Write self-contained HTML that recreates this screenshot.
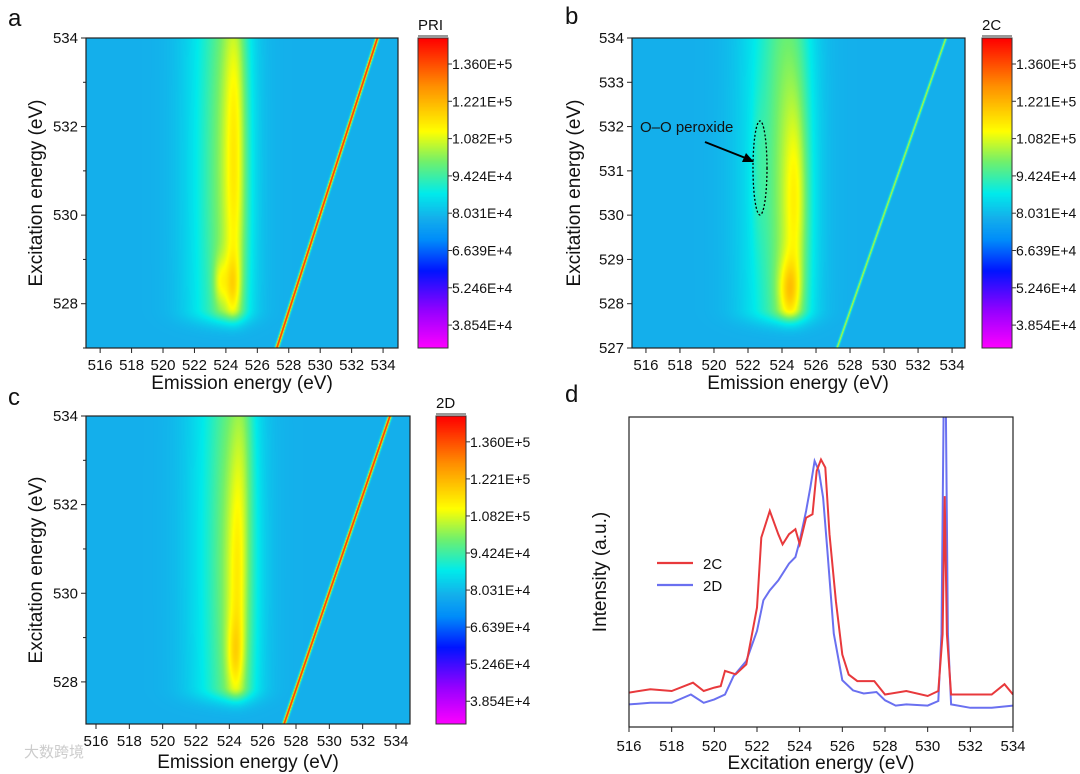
<!DOCTYPE html>
<html><head><meta charset="utf-8">
<style>
body{margin:0;background:#fff;width:1080px;height:774px;overflow:hidden;position:relative;font-family:"Liberation Sans",Arial,sans-serif}
canvas{position:absolute}
svg{position:absolute;left:0;top:0}
text{font-family:"Liberation Sans",Arial,sans-serif;fill:#111}
</style></head><body>
<canvas id="ca"></canvas>
<canvas id="cb"></canvas>
<canvas id="cc"></canvas>
<canvas id="cba"></canvas>
<canvas id="cbb"></canvas>
<canvas id="cbc"></canvas>
<svg id="s" width="1080" height="774"></svg>
<script>
// ---- data ----
const cbarLabels = ["1.360E+5","1.221E+5","1.082E+5","9.424E+4","8.031E+4","6.639E+4","5.246E+4","3.854E+4"];
const cbarTitles = ["PRI","2C","2D"];
const emTicks = [516,518,520,522,524,526,528,530,532,534];
// blobs: [emission, excitation, sigmaX, sigmaY, amplitude]
const blobsA = [[523.4,531,1.5,8,0.11],[524.3,531,0.9,4,0.12],[524.6,530.5,0.45,2.2,0.1],[524.6,533.5,0.5,1.5,0.05],[524.4,528.4,0.35,0.5,0.1],[523.6,528.5,0.3,0.4,0.09]];
const blobsB = [[523.6,531,1.5,8,0.11],[524.5,530.5,0.9,4,0.12],[524.8,530.3,0.45,1.6,0.1],[524.4,528.3,0.45,0.5,0.14],[522.6,531,0.3,1.2,0.03]];
const blobsC = [[523.6,531,1.5,8,0.11],[524.4,530.5,0.85,4,0.12],[524.5,530.2,0.4,2,0.09],[524.3,528.6,0.35,0.6,0.08],[524.8,533.5,0.4,1.5,0.04]];
const elasticEm = [527.2,533.6]; const elasticEx = [527,534];
const elasticAmp = [0.55,0.24,0.55];
const dX_red = [516,517,518,519,519.5,520,520.3,520.5,521,521.5,522,522.2,522.6,523,523.2,523.5,523.8,524,524.3,524.6,524.8,525,525.2,525.4,525.7,526,526.3,526.7,527.5,528,529,530,530.5,530.7,530.8,530.9,531.1,532,533,533.6,534];
const dY_red = [11.1,12.2,11.6,14.3,11.6,12.7,13.2,18.1,17.0,20.2,38.5,61.1,69.7,62.2,58.9,62.2,63.8,59.0,67.5,68.6,82.6,86.3,83.7,62.2,40.6,23.4,16.9,14.8,14.8,10.5,11.6,10.0,11.6,29.9,74.5,29.9,10.5,10.5,10.5,13.8,10.5];
const dX_blue = [516,517,518,518.9,519.5,520,520.5,520.9,521.5,522,522.3,522.6,523,523.5,523.8,524,524.3,524.5,524.7,524.9,525.1,525.3,525.6,526,526.5,527,527.6,528,528.5,529,530,530.5,530.65,530.75,530.85,530.95,531.1,532,533,534];
const dY_blue = [7.3,7.8,7.8,10.5,7.8,8.9,10.5,16.4,21.3,31.0,40.9,44.1,47.3,52.7,54.8,60.0,69.7,77.2,85.8,82.6,74.0,56.8,30.1,15.1,11.8,10.8,11.3,8.6,6.9,7.3,6.9,8.4,30.1,105,105,30.1,7.3,6.2,6.2,6.9];

const stops=[[0,[255,0,255]],[0.12,[150,0,255]],[0.25,[0,20,255]],[0.35,[0,140,250]],[0.42,[20,175,235]],[0.5,[0,235,235]],[0.6,[110,240,110]],[0.7,[255,255,0]],[0.85,[255,140,0]],[1,[255,0,0]]];
function cmap(t){t=Math.max(0,Math.min(1,t));for(let i=1;i<stops.length;i++){if(t<=stops[i][0]){const a=stops[i-1],b=stops[i],f=(t-a[0])/(b[0]-a[0]);return a[1].map((v,k)=>Math.round(v+(b[1][k]-v)*f));}}return stops[stops.length-1][1];}

const panels=[
 {c:'ca',cb:'cba',x:86,y:38,w:312,h:310,x0:515.1,x1:534.95,y0:527,y1:534,cbx:418,blobs:blobsA,amp:elasticAmp[0],yt:[528,530,532,534],letter:'a',lx:8,ly:26,tx:242,ty:389,ayx:42},
 {c:'cb',cb:'cbb',x:632,y:38,w:333,h:310,x0:515.18,x1:534.76,y0:527,y1:534,cbx:982,blobs:blobsB,amp:elasticAmp[1],yt:[527,528,529,530,531,532,533,534],letter:'b',lx:565,ly:24,tx:798,ty:389,ayx:580},
 {c:'cc',cb:'cbc',x:86,y:416,w:324,h:308,x0:515.4,x1:534.84,y0:527.05,y1:534,cbx:436,blobs:blobsC,amp:elasticAmp[2],yt:[528,530,532,534],letter:'c',lx:8,ly:405,tx:248,ty:768,ayx:42}
];
const S=document.getElementById('s');const NS='http://www.w3.org/2000/svg';
function el(tag,attrs,parent){const e=document.createElementNS(NS,tag);for(const k in attrs)e.setAttribute(k,attrs[k]);(parent||S).appendChild(e);return e;}
function txt(x,y,s,size,anchor,name,extra){const t=el('text',Object.assign({x:x,y:y,'font-size':size,'text-anchor':anchor||'start'},extra||{}));t.textContent=s;return t;}

panels.forEach((p,pi)=>{
 const cv=document.getElementById(p.c);cv.width=p.w;cv.height=p.h;cv.style.left=p.x+'px';cv.style.top=p.y+'px';
 const ctx=cv.getContext('2d');const img=ctx.createImageData(p.w,p.h);
 const sx=v=>(v-p.x0)/(p.x1-p.x0)*p.w, sy=v=>p.h-(v-p.y0)/(p.y1-p.y0)*p.h;
 const lx0=sx(elasticEm[0]),ly0=sy(elasticEx[0]),lx1=sx(elasticEm[1]),ly1=sy(elasticEx[1]);
 const dx=lx1-lx0,dy=ly1-ly0,L=Math.hypot(dx,dy);
 for(let j=0;j<p.h;j++){const ey=p.y0+(p.h-j)/p.h*(p.y1-p.y0);
  for(let i=0;i<p.w;i++){const ex=p.x0+i/p.w*(p.x1-p.x0);
   let t=0.42;
   p.blobs.forEach(b=>{t+=b[4]*Math.exp(-((ex-b[0])**2)/(2*b[2]*b[2])-((ey-b[1])**2)/(2*b[3]*b[3]));});
   if(ey<527.9){t=0.42+(t-0.42)*Math.exp(-((527.9-ey)**2)/0.12);}
   const d=Math.abs((i-lx0)*dy-(j-ly0)*dx)/L;
   t+=p.amp*Math.exp(-d*d/(pi==1?1.2:2.5));
   const c=cmap(t);const o=(j*p.w+i)*4;img.data[o]=c[0];img.data[o+1]=c[1];img.data[o+2]=c[2];img.data[o+3]=255;}}
 ctx.putImageData(img,0,0);
 const cb=document.getElementById(p.cb);cb.width=30;cb.height=p.h;cb.style.left=p.cbx+'px';cb.style.top=p.y+'px';
 const c2=cb.getContext('2d');for(let j=0;j<p.h;j++){const c=cmap(1-j/p.h);c2.fillStyle=`rgb(${c})`;c2.fillRect(0,j,30,1);}
 el('rect',{x:p.cbx,y:p.y,width:30,height:p.h,fill:'none',stroke:'#333','stroke-width':1,});
 el('rect',{x:p.cbx,y:p.y-3,width:30,height:3,fill:'#999',});
 cbarLabels.forEach((l,k)=>{const yy=p.y+p.h*(26+k*37.3)/310;el('line',{x1:p.cbx+30,x2:p.cbx+34,y1:yy,y2:yy,stroke:'#333'});txt(p.cbx+34,yy+5,l,14,'start','colorbar-label');});
 txt(p.cbx,p.y-8,cbarTitles[pi],15,'start','colorbar-title');
 el('rect',{x:p.x,y:p.y,width:p.w,height:p.h,fill:'none',stroke:'#222','stroke-width':1.2,});
 emTicks.forEach(v=>{const X=p.x+sx(v);el('line',{x1:X,x2:X,y1:p.y+p.h,y2:p.y+p.h+5,stroke:'#222'});txt(X,p.y+p.h+22,String(v),15,'middle','x-tick-label');});
 for(let v=Math.ceil(p.y0);v<=p.y1;v++){const Y=p.y+sy(v);el('line',{x1:p.x-(p.yt.includes(v)?5:3),x2:p.x,y1:Y,y2:Y,stroke:'#222'});}
 p.yt.forEach(v=>{const Y=p.y+sy(v);txt(p.x-8,Y+5,String(v),15,'end','y-tick-label');});
 txt(p.tx,p.ty,'Emission energy (eV)',19,'middle','x-axis-title');
 txt(p.ayx,p.y+p.h/2,'Excitation energy (eV)',19,'middle','y-axis-title',{transform:`rotate(-90 ${p.ayx} ${p.y+p.h/2})`});
 txt(p.lx,p.ly,p.letter,24,'start','panel-letter');
});
el('ellipse',{cx:760,cy:168,rx:7,ry:47,fill:'none',stroke:'#000','stroke-width':1.3,'stroke-dasharray':'2,2',});
el('line',{x1:705,y1:142,x2:748,y2:159,stroke:'#000','stroke-width':2,});
el('polygon',{points:'754,162 742,162 746,153',fill:'#000'});
txt(640,132,'O–O peroxide',15,'start','peroxide-label');

const D={x:629,y:417,w:384,h:310,x0:516,x1:534};
const dx_=v=>D.x+(v-D.x0)/(D.x1-D.x0)*D.w, dy_=v=>D.y+D.h-v/100*D.h;
const defs=el('defs',{});const cp=el('clipPath',{id:'clipd'},defs);el('rect',{x:D.x,y:D.y,width:D.w,height:D.h},cp);
function series(xs,ys,col,name){const pts=xs.map((x,i)=>dx_(x).toFixed(1)+','+dy_(ys[i]).toFixed(1)).join(' ');
 const pl=el('polyline',{points:pts,fill:'none',stroke:col,'stroke-width':2,'clip-path':'url(#clipd)'});
 
 }
series(dX_blue,dY_blue,'#6a70f0','series-2d');
series(dX_red,dY_red,'#e8393c','series-2c');
el('rect',{x:D.x,y:D.y,width:D.w,height:D.h,fill:'none',stroke:'#222','stroke-width':1.2,});
for(let v=516;v<=534;v+=2){const X=dx_(v);el('line',{x1:X,x2:X,y1:D.y+D.h,y2:D.y+D.h+5,stroke:'#222'});txt(X,D.y+D.h+24,String(v),15,'middle','x-tick-label');}
txt(821,769,'Excitation energy (eV)',19,'middle','x-axis-title');
txt(606,572,'Intensity (a.u.)',19,'middle','y-axis-title',{transform:'rotate(-90 606 572)'});
txt(565,402,'d',24,'start','panel-letter');
el('line',{x1:657,x2:693,y1:563,y2:563,stroke:'#e8393c','stroke-width':2.2,});
txt(703,569,'2C',15,'start','legend-label-2c');
el('line',{x1:657,x2:693,y1:585,y2:585,stroke:'#6a70f0','stroke-width':2.2,});
txt(703,591,'2D',15,'start','legend-label-2d');
txt(24,757,'大数跨境',15,'start','watermark',{style:'fill:#ccc;font-family:"Liberation Sans","Noto Sans CJK SC",sans-serif'});
</script>
</body></html>
